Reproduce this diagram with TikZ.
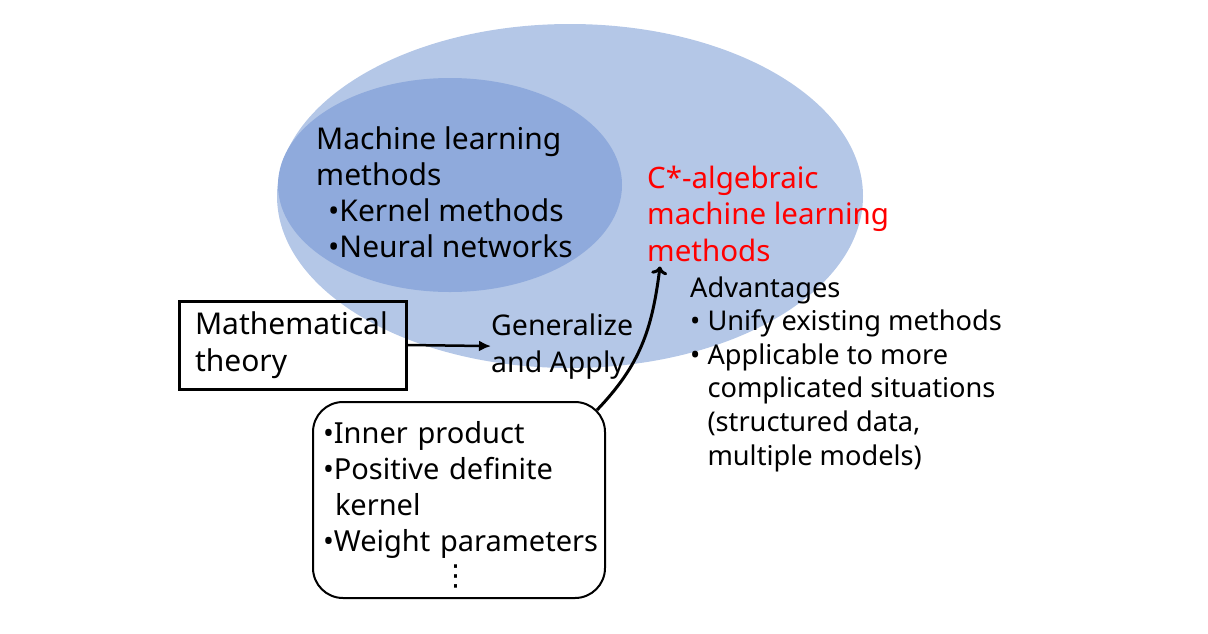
\documentclass[tikz,border=0pt]{standalone}
\usepackage{fontspec}
\setmainfont{Noto Sans}
\newfontfamily\symfont{DejaVu Sans}
\usetikzlibrary{calc,arrows.meta}
\definecolor{outerblue}{RGB}{180,199,231}
\definecolor{innerblue}{RGB}{143,170,220}
\definecolor{accred}{RGB}{255,0,0}

\begin{document}
\begin{tikzpicture}[x=1pt,y=-1pt,
  txt/.style={inner sep=0pt,anchor=base west,align=left,font=\fontsize{30}{36}\selectfont},
  advtxt/.style={inner sep=0pt,anchor=base west,align=left,font=\fontsize{27.2}{33.6}\selectfont}]
  \useasboundingbox (0,0) rectangle (1208,633);
  % the two sets
  \fill[outerblue] (570,196) ellipse (293 and 172);
  \fill[innerblue] (450,185) ellipse (172 and 107);
  \node[txt] (ml) at (316,257) {Machine learning\\methods\\\hspace*{12pt}•Kernel methods\\\hspace*{12pt}•Neural networks};
  \node[txt,text=accred,font=\fontsize{29.5}{36.5}\selectfont] (cstar) at (647,261)
    {C*-algebraic\\machine learning\\methods};
  \node[advtxt] (adv) at (690,465) {Advantages\\• Unify existing methods\\• Applicable to more\\
    \hphantom{• }complicated situations\\\hphantom{• }(structured data,\\\hphantom{• }multiple models)};
  % theory box and arrow
  \node[draw,line width=3pt,minimum width=227,minimum height=88,text width=195,inner xsep=16pt,
    align=left,font=\fontsize{30}{37}\selectfont] (theory) at (292.5,345) {Mathematical\\theory};
  \node[txt,font=\fontsize{28.5}{37}\selectfont] (gen) at (491,372) {Generalize\\and Apply};
  \draw[line width=2.5pt,-{Latex[length=12pt,width=11pt]}] (theory.east) -- (gen.west);
  % ingredients
  \node[draw,line width=2pt,rounded corners=30pt,minimum width=292,minimum height=196,text width=272,
    inner xsep=10pt,align=left,font=\fontsize{29}{36}\selectfont] (parts) at (459,500)
    {\rule{0pt}{32pt}•Inner product\\•Positive definite\\\hspace*{12pt}kernel\\\mbox{•Weight parameters}\\[-2pt]\hspace*{118pt}{\symfont ⋮}};
  \coordinate (tip) at ($(cstar.south west)+(13,5)$);
  \draw[line width=3pt,-{To[length=8pt,width=16pt]}] ($(parts.north east)+(-9,9)$)
    .. controls (640,365) and (652,330) .. (tip);
\end{tikzpicture}
\end{document}
